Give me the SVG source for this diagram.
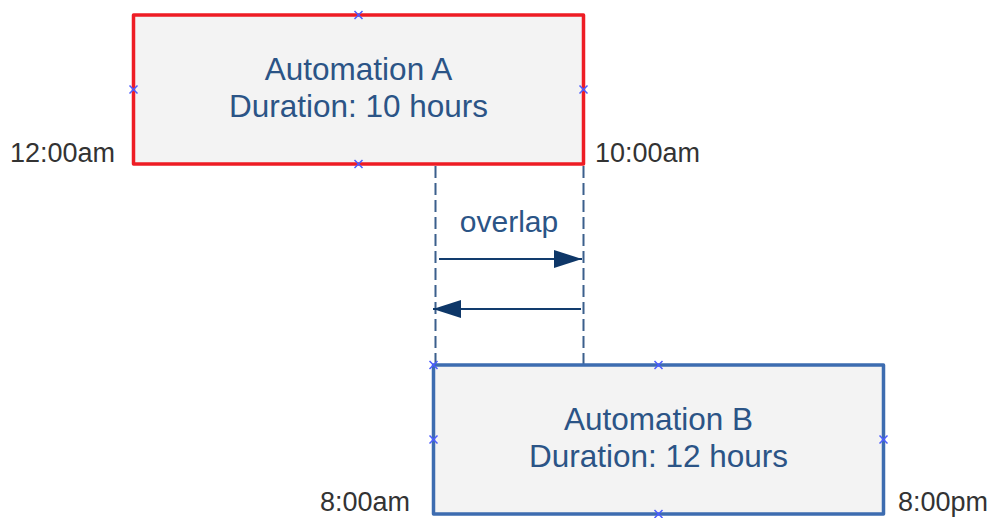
<svg xmlns="http://www.w3.org/2000/svg" width="993" height="518" viewBox="0 0 993 518">
<style>
.box{fill:#f3f3f3;stroke-width:3.5;stroke-linejoin:round}
.ntxt{font-family:"Liberation Sans",Arial,sans-serif;font-size:31.5px;fill:#2b5486;text-anchor:middle}
.lbl{font-family:"Liberation Sans",Arial,sans-serif;font-size:27px;fill:#333333}
.dash{stroke:#3b5f8c;stroke-width:2;stroke-dasharray:12,5;fill:none}
.arr{stroke:#123c6e;stroke-width:2;fill:none}
.xm{stroke:#4a5cff;stroke-width:1.5;fill:none}
</style>
<defs>
<marker id="ah" viewBox="0 0 28 18" refX="28" refY="9" markerWidth="28" markerHeight="18" markerUnits="userSpaceOnUse" orient="auto">
<path d="M0,0 L28,9 L0,18 Z" fill="#0e3768"/>
</marker>
<path id="x" d="M-4,-4 L4,4 M-4,4 L4,-4" class="xm"/>
</defs>
<g id="connectors">
<line class="dash" x1="435.5" y1="166" x2="435.5" y2="364"/>
<line class="dash" x1="583.5" y1="166" x2="583.5" y2="366"/>
<line class="arr" x1="439" y1="259" x2="582" y2="259" marker-end="url(#ah)"/>
<line class="arr" x1="581" y1="309" x2="433" y2="309" marker-end="url(#ah)"/>
<text x="509" y="232" class="ntxt" style="font-size:30px">overlap</text>
</g>
<g id="nodeA">
<rect class="box" x="133.5" y="15" width="450" height="149" stroke="#ee1c24"/>
<text class="ntxt" x="358.5" y="80">Automation A</text>
<text class="ntxt" x="358.5" y="117">Duration: 10 hours</text>
<use href="#x" x="358.5" y="15"/>
<use href="#x" x="358.5" y="164"/>
<use href="#x" x="133.5" y="89.5"/>
<use href="#x" x="583.5" y="89.5"/>
</g>
<g id="nodeB">
<rect class="box" x="433.5" y="365" width="450" height="149" stroke="#3d6cb0"/>
<text class="ntxt" x="658.5" y="430">Automation B</text>
<text class="ntxt" x="658.5" y="467">Duration: 12 hours</text>
<use href="#x" x="433.5" y="365"/>
<use href="#x" x="658.5" y="365"/>
<use href="#x" x="658.5" y="514"/>
<use href="#x" x="433.5" y="439.5"/>
<use href="#x" x="883.5" y="439.5"/>
</g>
<g id="labels">
<text class="lbl" x="10" y="162">12:00am</text>
<text class="lbl" x="595" y="162">10:00am</text>
<text class="lbl" x="410" y="511" text-anchor="end">8:00am</text>
<text class="lbl" x="898" y="511">8:00pm</text>
</g>
</svg>
